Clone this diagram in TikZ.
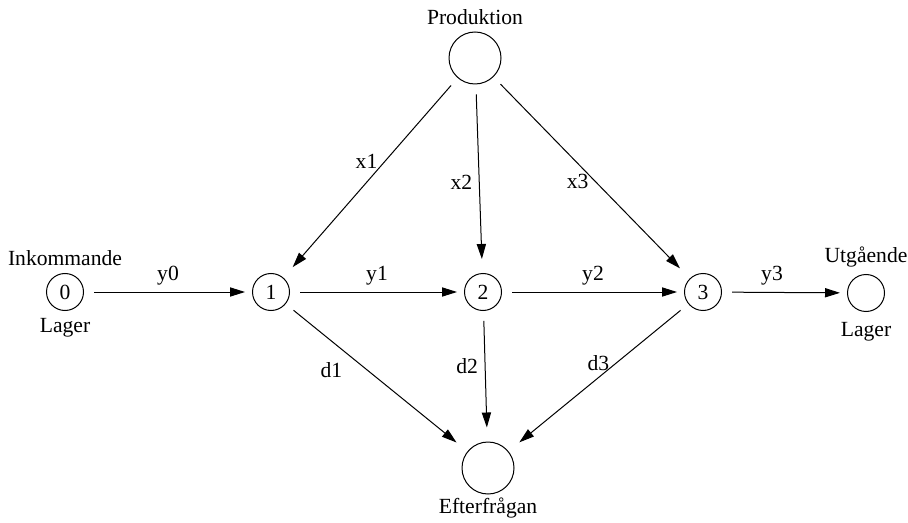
\documentclass[tikz,border=0pt]{standalone}
\usepackage{fontspec}
\setmainfont{Liberation Serif}
\usetikzlibrary{arrows.meta}

\begin{document}
\begin{tikzpicture}[>={Triangle[length=7.5pt,width=4.6pt]}, x=0.5pt, y=-0.5pt, line width=0.5pt, font=\fontsize{10.8}{13}\selectfont]

	\tikzset{
		lagerpkt/.style={circle, draw, inner sep=0pt, minimum size=18.5pt},
		stor/.style={circle, draw, inner sep=0pt, minimum size=26pt},
		flode/.style={->, shorten <=5pt, shorten >=3.5pt},
		gren/.style={->, shorten <=5pt, shorten >=7pt},
	}

	\useasboundingbox (0,0) rectangle (908,523);

	% --- Middle row: stock and periods
	\node[lagerpkt, label={above:Inkommande}, label={below:Lager}] (n0) at (65,292) {0};
	\node[lagerpkt] (n1) at (271,292) {1};
	\node[lagerpkt] (n2) at (483,292) {2};
	\node[lagerpkt] (n3) at (703,292) {3};
	\node[lagerpkt, label={above:Utgående}, label={[label distance=1.5pt]below:Lager}] (utlager) at (866,293) {};

	% --- Source and sink
	\node[stor, label={above:Produktion}] (prod) at (475,58) {};
	\node[stor, label={[inner sep=1.2pt]below:Efterfrågan}] (efterfr) at (488,468) {};

	% --- Stock flow
	\draw[flode] (n0) -- node[above] {y0} (n1);
	\draw[flode] (n1) -- node[above] {y1} (n2);
	\draw[flode] (n2) -- node[above] {y2} (n3);
	\draw[flode] (n3) -- node[above, pos=0.4] {y3} (utlager);

	% --- Production
	\draw[gren] (prod) -- node[left, pos=0.42] {x1} (n1);
	\draw[gren] (prod) -- node[left, pos=0.52] {x2} (n2);
	\draw[gren] (prod) -- node[left, pos=0.52] {x3} (n3);

	% --- Demand
	\draw[gren] (n1) -- node[below left, pos=0.35] {d1} (efterfr);
	\draw[gren] (n2) -- node[left, pos=0.42] {d2} (efterfr);
	\draw[gren] (n3) -- node[left, pos=0.4] {d3} (efterfr);

\end{tikzpicture}
\end{document}
